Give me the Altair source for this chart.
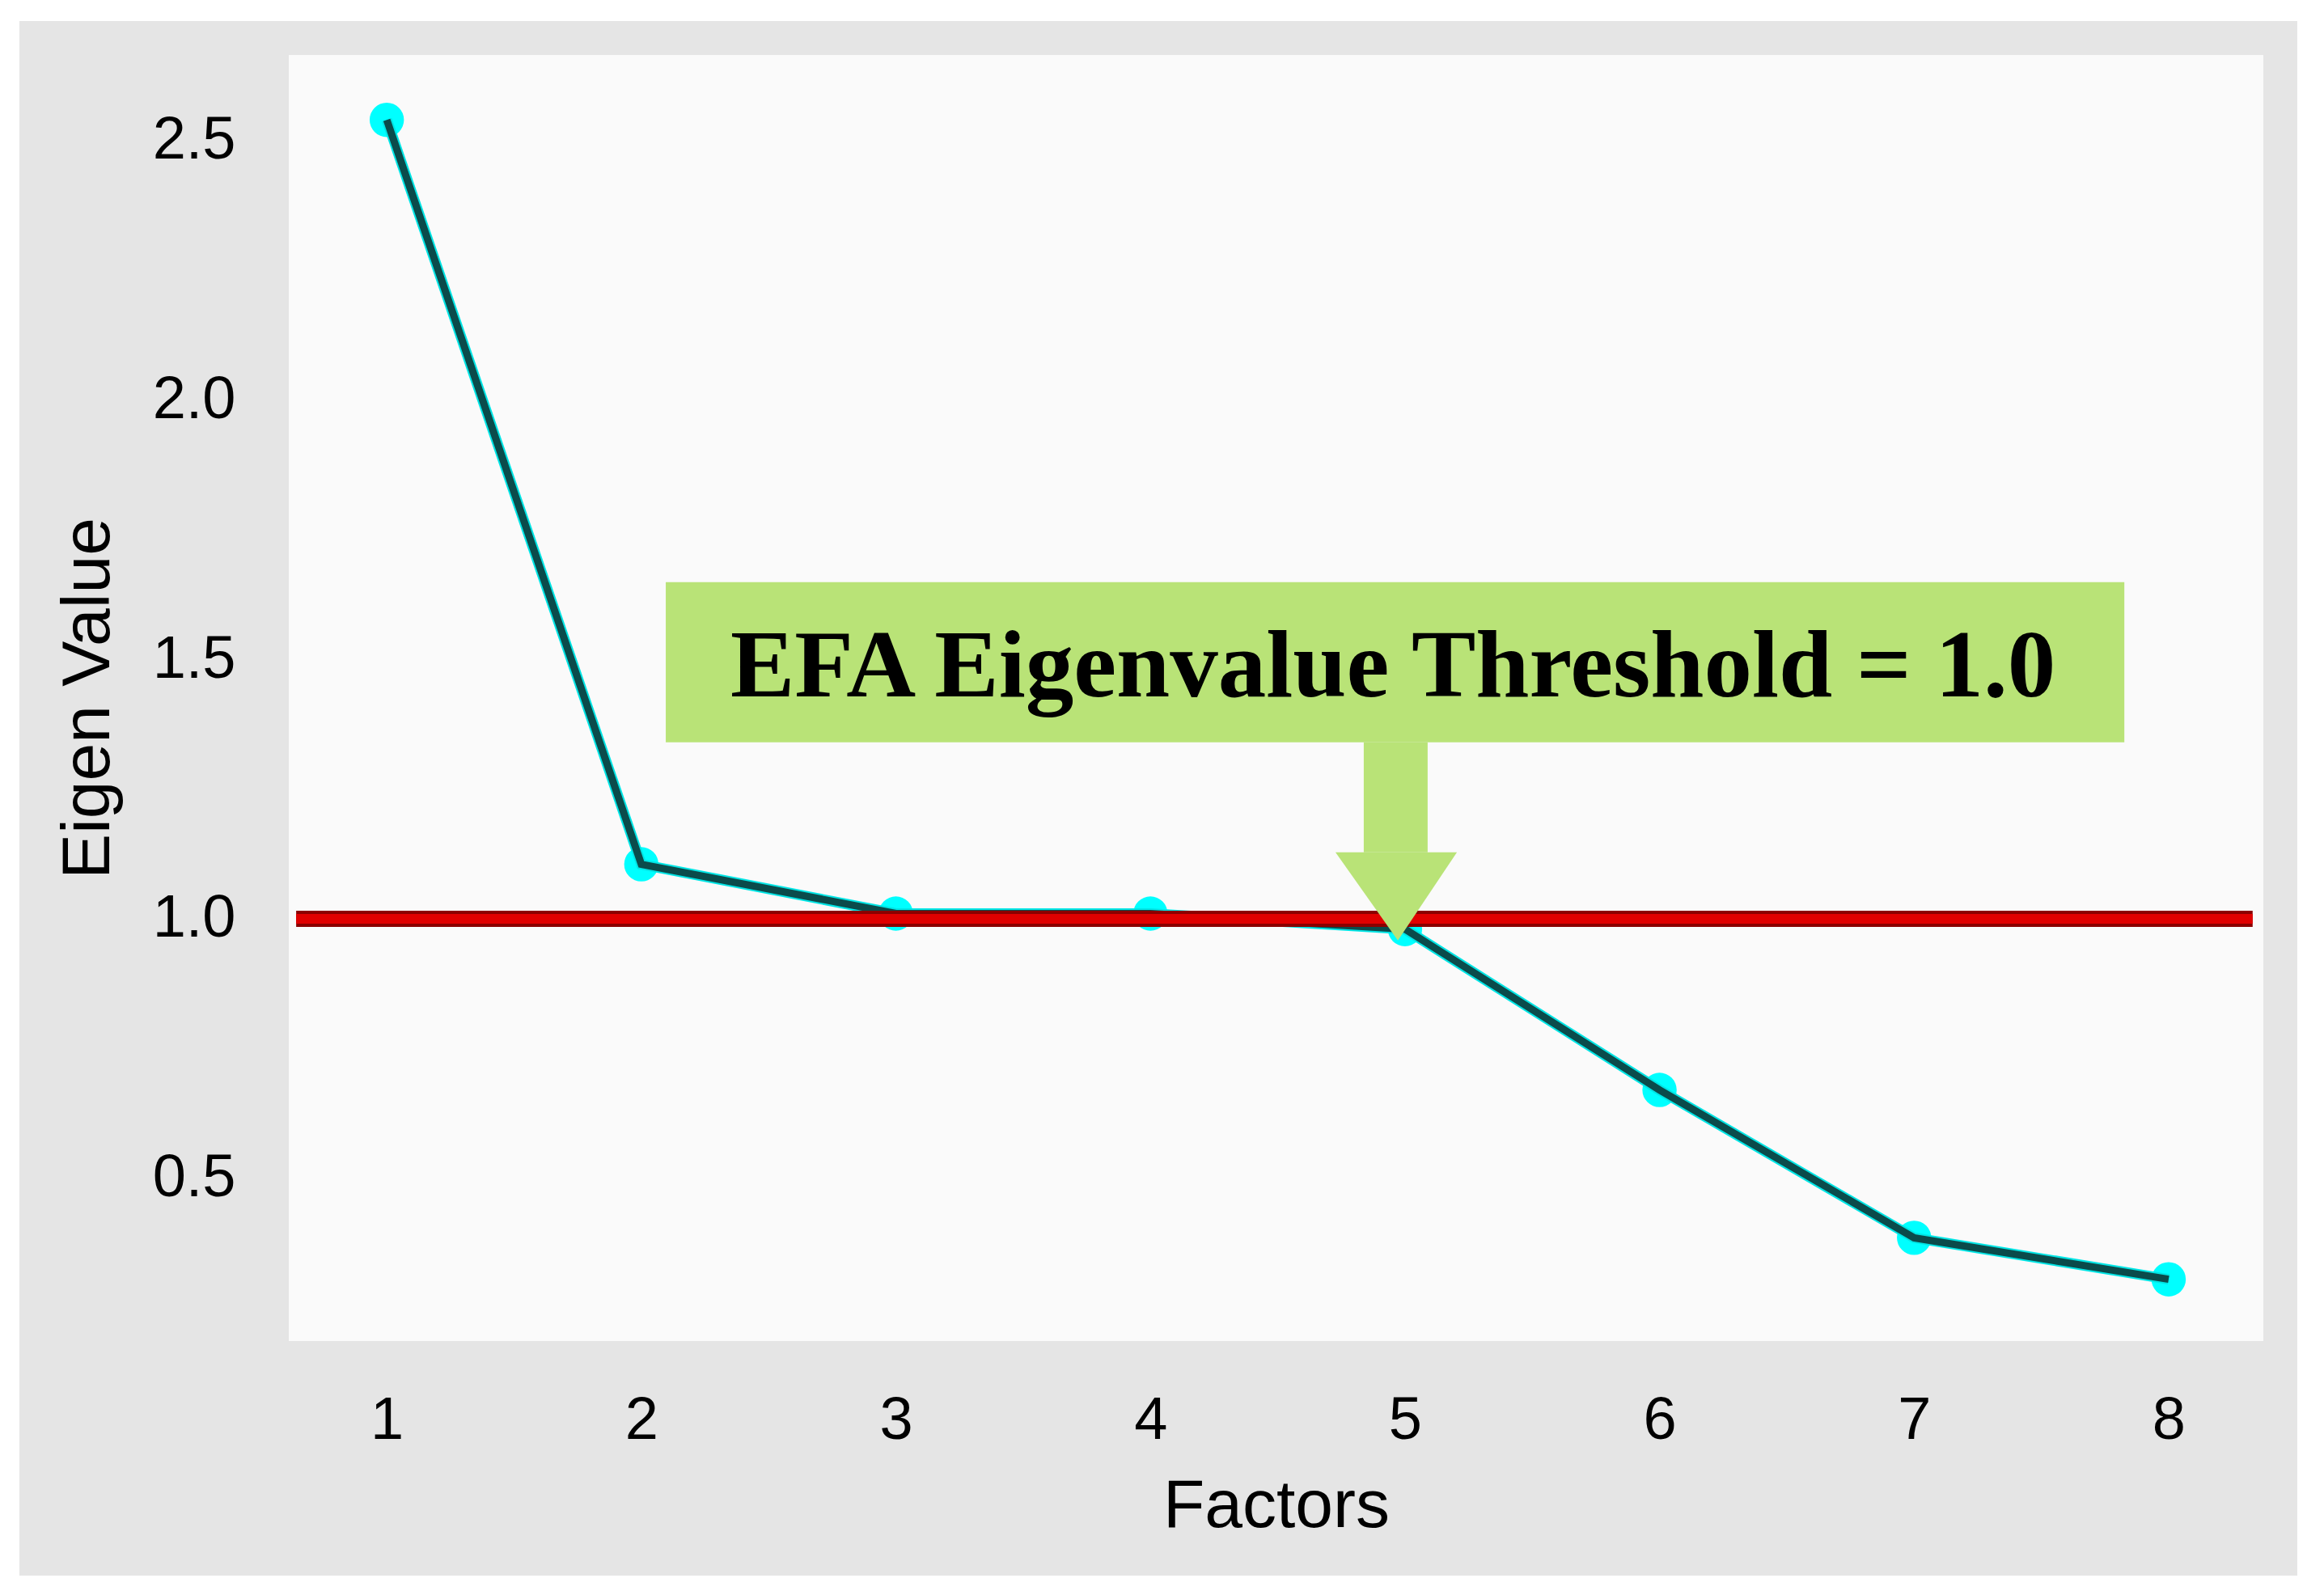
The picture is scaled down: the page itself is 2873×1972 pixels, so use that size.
import altair as alt
import pandas as pd

# ---- data ----
factors = [1, 2, 3, 4, 5, 6, 7, 8]
eigenvalues = [2.54, 1.105, 1.01, 1.01, 0.98, 0.67, 0.385, 0.305]

threshold = 1.0
threshold_span = [0.644, 8.33]

x_ticks = [1, 2, 3, 4, 5, 6, 7, 8]
y_ticks = [0.5, 1.0, 1.5, 2.0, 2.5]
x_domain = [0.615, 8.372]
y_domain = [0.186, 2.665]

annotation_text = "EFA Eigenvalue Threshold = 1.0"
box_x = [2.096, 7.826]
box_y = [1.340, 1.649]
text_pos = [4.953, 1.429]
shaft_x = [4.838, 5.089]
shaft_y = [1.128, 1.340]
head_x = [4.727, 4.972, 5.204]
head_tip_y = [1.128, 0.958, 1.128]
head_base_y = 1.128

# ---- tables ----
df = pd.DataFrame({"factor": factors, "eigen": eigenvalues})
thr_df = pd.DataFrame({"x1": [threshold_span[0]], "x2": [threshold_span[1]], "y": [threshold]})
box_df = pd.DataFrame({"x1": [box_x[0]], "x2": [box_x[1]], "y1": [box_y[0]], "y2": [box_y[1]]})
shaft_df = pd.DataFrame({"x1": [shaft_x[0]], "x2": [shaft_x[1]], "y1": [shaft_y[0]], "y2": [shaft_y[1]]})
head_df = pd.DataFrame({"hx": head_x, "hy": head_tip_y, "hb": [head_base_y] * 3})
text_df = pd.DataFrame({"tx": [text_pos[0]], "ty": [text_pos[1]], "label": [annotation_text]})
one = pd.DataFrame({"k": [0]})

W, H = 2441, 1590

xs = alt.Scale(domain=x_domain, nice=False, zero=False)
ys = alt.Scale(domain=y_domain, nice=False, zero=False)

X_AX = alt.Axis(values=x_ticks, format="d", title="Factors", zindex=1)
Y_AX = alt.Axis(values=y_ticks, format=".1f", title="Eigen Value", zindex=1)

# outer gray panel and light plot panel (styling only)
gray_bg = alt.Chart(one).mark_rect(color="#e5e5e5").encode(
    x=alt.value(-333), x2=alt.value(W + 42), y=alt.value(-42), y2=alt.value(H + 290)
)
plot_bg = alt.Chart(one).mark_rect(color="#fafafa").encode(
    x=alt.value(0), x2=alt.value(W), y=alt.value(0), y2=alt.value(H)
)

points = alt.Chart(df).mark_circle(color="#00ffff", opacity=1, size=1800).encode(
    x=alt.X("factor:Q", scale=xs, axis=X_AX),
    y=alt.Y("eigen:Q", scale=ys, axis=Y_AX),
)
line_outer = alt.Chart(df).mark_line(color="#00e5e5", strokeWidth=13).encode(
    x=alt.X("factor:Q", scale=xs, axis=X_AX),
    y=alt.Y("eigen:Q", scale=ys, axis=Y_AX),
)
line_inner = alt.Chart(df).mark_line(color="#0b4b4b", strokeWidth=9).encode(
    x=alt.X("factor:Q", scale=xs, axis=X_AX),
    y=alt.Y("eigen:Q", scale=ys, axis=Y_AX),
)

thr_dark = alt.Chart(thr_df).mark_rule(color="#8b0000", strokeWidth=20).encode(
    x=alt.X("x1:Q", scale=xs, axis=X_AX), x2="x2:Q",
    y=alt.Y("y:Q", scale=ys, axis=Y_AX),
)
thr_bright = alt.Chart(thr_df).mark_rule(color="#e00000", strokeWidth=12).encode(
    x=alt.X("x1:Q", scale=xs, axis=X_AX), x2="x2:Q",
    y=alt.Y("y:Q", scale=ys, axis=Y_AX),
)

green = "#b9e377"
box = alt.Chart(box_df).mark_rect(color=green).encode(
    x=alt.X("x1:Q", scale=xs, axis=X_AX), x2="x2:Q",
    y=alt.Y("y1:Q", scale=ys, axis=Y_AX), y2="y2:Q",
)
shaft = alt.Chart(shaft_df).mark_rect(color=green).encode(
    x=alt.X("x1:Q", scale=xs, axis=X_AX), x2="x2:Q",
    y=alt.Y("y1:Q", scale=ys, axis=Y_AX), y2="y2:Q",
)
head = alt.Chart(head_df).mark_area(color=green, opacity=1).encode(
    x=alt.X("hx:Q", scale=xs, axis=X_AX),
    y=alt.Y("hy:Q", scale=ys, axis=Y_AX), y2="hb:Q",
)
label = alt.Chart(text_df).mark_text(
    font="Liberation Serif", fontWeight="bold", fontSize=119,
    color="black", baseline="alphabetic", align="center"
).encode(
    x=alt.X("tx:Q", scale=xs, axis=X_AX),
    y=alt.Y("ty:Q", scale=ys, axis=Y_AX),
    text="label:N",
)

chart = alt.layer(
    gray_bg, plot_bg, points, line_outer, line_inner,
    thr_dark, thr_bright, box, shaft, head, label
).properties(
    width=W, height=H,
    background="white",
    padding={"left": 16, "top": 18, "right": 20, "bottom": 10},
).configure_view(
    stroke=None
).configure_axis(
    grid=False, domain=False, ticks=False,
    labelFont="Liberation Sans", labelFontSize=74, labelColor="black",
    titleFont="Liberation Sans", titleFontSize=84, titleFontWeight="normal",
    titleColor="black",
).configure_axisX(
    labelPadding=62, titlePadding=28
).configure_axisY(
    labelPadding=66, titlePadding=36
)

chart.save("out.html", embed_options={"renderer": "svg", "actions": False})
